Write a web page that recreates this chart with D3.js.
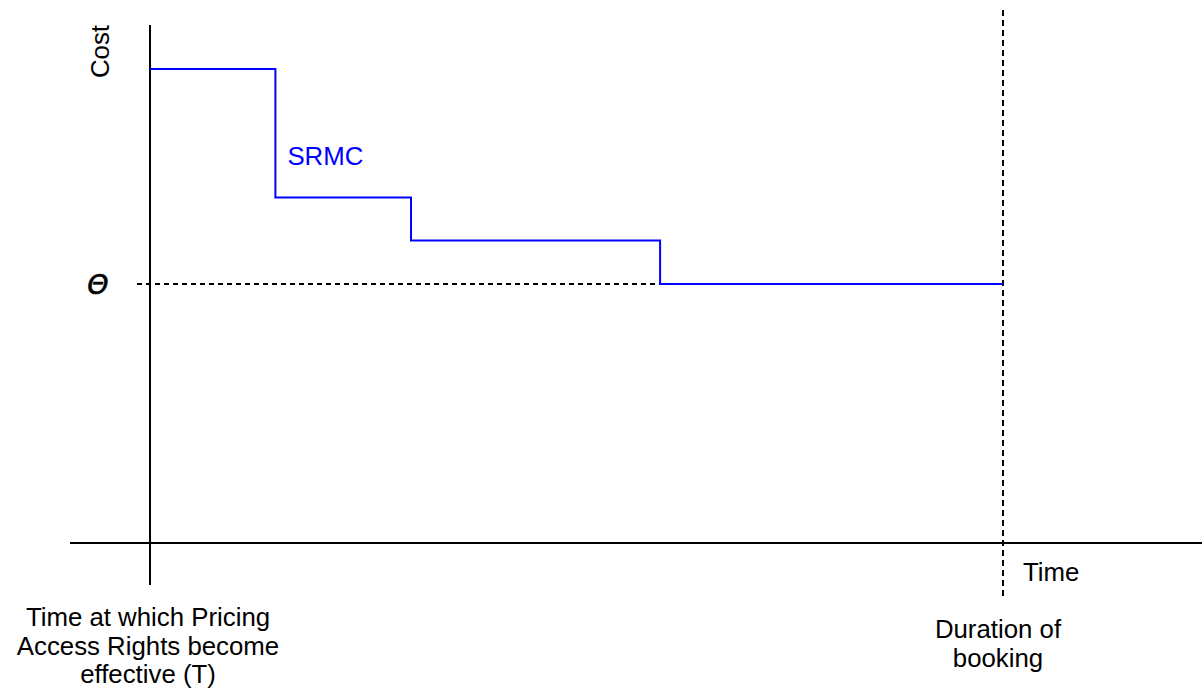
<!DOCTYPE html>
<html>
<head>
<meta charset="utf-8">
<script src="https://cdn.jsdelivr.net/npm/d3@7"></script>
<style>
  html, body { margin: 0; padding: 0; background: #fff; }
  svg text { font-family: "Liberation Sans", Arial, Helvetica, sans-serif; }
</style>
</head>
<body>
<div id="chart"></div>
<script>
// --- data ---------------------------------------------------------------
// SRMC step: cost levels starting at each time breakpoint (time 0..100 = T..end of booking)
const stepTimes = [0, 14.7, 30.6, 59.8, 100];
const stepCosts = [91.5, 66.7, 58.4, 50, 50];
const theta = 50;              // floor level Θ
const bookingEnd = 100;        // duration of booking
const startLabel = ["Time at which Pricing", "Access Rights become", "effective (T)"];
const endLabel = ["Duration of", "booking"];
// ------------------------------------------------------------------------

const width = 1202, height = 690;

const svg = d3.select("#chart").append("svg")
  .attr("width", width)
  .attr("height", height);

const x = d3.scaleLinear().domain([0, 100]).range([150, 1003]);
const y = d3.scaleLinear().domain([0, 100]).range([543, 25]);

// axes (plain lines, no ticks)
svg.append("line")
  .attr("x1", x(0)).attr("x2", x(0))
  .attr("y1", y(100)).attr("y2", y(0) + 42)
  .attr("stroke", "#000").attr("stroke-width", 2);

svg.append("line")
  .attr("x1", x(0) - 80).attr("x2", width)
  .attr("y1", y(0)).attr("y2", y(0))
  .attr("stroke", "#000").attr("stroke-width", 2);

// theta dashed level
svg.append("line")
  .attr("x1", x(0) - 13).attr("x2", x(bookingEnd))
  .attr("y1", y(theta)).attr("y2", y(theta))
  .attr("stroke", "#000").attr("stroke-width", 2)
  .attr("stroke-dasharray", "5,4");

// end of booking dashed vertical
svg.append("line")
  .attr("x1", x(bookingEnd)).attr("x2", x(bookingEnd))
  .attr("y1", 10).attr("y2", y(0) + 57)
  .attr("stroke", "#000").attr("stroke-width", 2)
  .attr("stroke-dasharray", "6,4");

// SRMC step line
const pts = stepTimes.map((t, i) => ({ t, c: stepCosts[i] }));
const line = d3.line()
  .x(d => x(d.t))
  .y(d => y(d.c))
  .curve(d3.curveStepAfter);

svg.append("path")
  .datum(pts)
  .attr("d", line)
  .attr("fill", "none")
  .attr("stroke", "#0000ff")
  .attr("stroke-width", 2);

const fs = 25.8;

svg.append("text")
  .attr("x", x(stepTimes[1]) + 12)
  .attr("y", 165)
  .attr("fill", "#0000ff")
  .style("font-size", fs + "px")
  .text("SRMC");

// axis titles
svg.append("text")
  .attr("transform", `translate(109,51.5) rotate(-90)`)
  .attr("text-anchor", "middle")
  .style("font-size", fs + "px")
  .text("Cost");

svg.append("text")
  .attr("x", 98)
  .attr("y", y(theta) + 10)
  .attr("text-anchor", "middle")
  .style("font-family", "'DejaVu Sans', sans-serif")
  .style("font-size", "27px")
  .style("font-style", "oblique")
  .attr("stroke", "#000")
  .attr("stroke-width", 0.7)
  .text("Θ");

svg.append("text")
  .attr("x", x(bookingEnd) + 20)
  .attr("y", 581)
  .style("font-size", fs + "px")
  .text("Time");

// bottom labels
svg.append("text")
  .attr("text-anchor", "middle")
  .style("font-size", fs + "px")
  .selectAll("tspan")
  .data(startLabel)
  .join("tspan")
    .attr("x", x(0) - 2)
    .attr("y", (d, i) => 626 + i * 28.5)
    .text(d => d);

svg.append("text")
  .attr("text-anchor", "middle")
  .style("font-size", fs + "px")
  .selectAll("tspan")
  .data(endLabel)
  .join("tspan")
    .attr("x", x(bookingEnd) - 5)
    .attr("y", (d, i) => 638 + i * 29)
    .text(d => d);
</script>
</body>
</html>
